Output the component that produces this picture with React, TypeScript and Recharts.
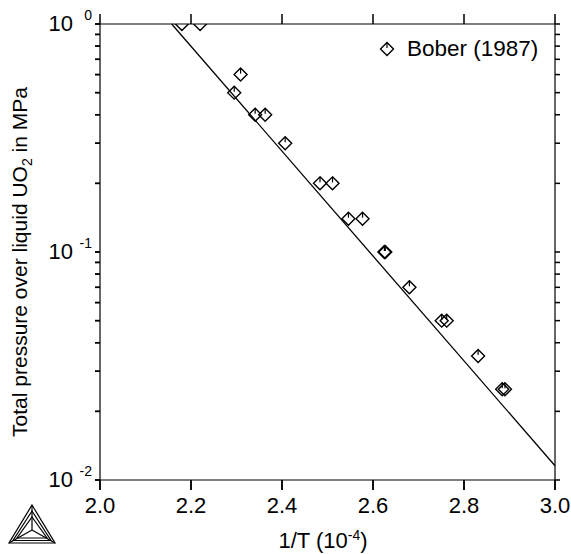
import React from "react";
import {
  ComposedChart,
  Scatter,
  XAxis,
  YAxis,
  ReferenceLine,
} from "recharts";

// Bober (1987) measurements: 1/T (1e-4) vs total pressure (MPa)
const invT = [
  2.18, 2.22, 2.295, 2.309, 2.341, 2.363, 2.407, 2.4835, 2.511, 2.546, 2.577,
  2.625, 2.627, 2.68, 2.751, 2.762, 2.831, 2.884, 2.89,
];
const pressure = [
  1.0, 1.0, 0.5, 0.6, 0.4, 0.4, 0.3, 0.2, 0.2, 0.14, 0.14, 0.1, 0.1, 0.07,
  0.05, 0.05, 0.035, 0.025, 0.025,
];

// fitted line end points
const fitX = [2.1575, 3.0];
const fitY = [1.0, 0.01155];

const xTicks = [2.0, 2.2, 2.4, 2.6, 2.8, 3.0];
const yTicks = [
  0.01, 0.02, 0.03, 0.04, 0.05, 0.06, 0.07, 0.08, 0.09, 0.1, 0.2, 0.3, 0.4,
  0.5, 0.6, 0.7, 0.8, 0.9, 1,
];
const decadeLabels: Record<string, string> = { "0.01": "-2", "0.1": "-1", "1": "0" };

const data = invT.map((x, i) => ({ x, y: pressure[i] }));

const FONT = "'Liberation Sans', Arial, Helvetica, sans-serif";
const W = 571;
const H = 554;
const TOP = 24;
const RIGHT = 16;
const X_TICK = 10;
const X_TICK_GAP = 7;
const Y_TICK = 5;
const Y_TICK_GAP = 2;
const TW = 1.5; // tick thickness

const Diamond = (props: any) => {
  const { cx, cy } = props;
  if (cx == null || cy == null) return null;
  const r = 6.5;
  return (
    <g>
      <path
        d={`M${cx},${cy - r} L${cx + r},${cy} L${cx},${cy + r} L${cx - r},${cy} Z`}
        fill="none"
        stroke="#000"
        strokeWidth={1.4}
      />
      <line x1={cx} y1={cy - r} x2={cx} y2={cy - 1} stroke="#000" strokeWidth={1.2} />
    </g>
  );
};

// bottom tick: label + outward tick, mirrored tick on the top frame
const XTick = (props: any) => {
  const { x, y, payload } = props;
  const axisY = y - X_TICK_GAP - X_TICK;
  return (
    <g>
      <rect x={x - TW / 2} y={axisY} width={TW} height={X_TICK} fill="#000" stroke="none" />
      <rect x={x - TW / 2} y={TOP - X_TICK} width={TW} height={X_TICK} fill="#000" stroke="none" />
      <text
        x={x}
        y={y}
        dy="0.71em"
        textAnchor="middle"
        fontFamily={FONT}
        fontSize={22}
        fill="#000"
        stroke="none"
      >
        {Number(payload.value).toFixed(1)}
      </text>
    </g>
  );
};

// left tick: outward tick, mirrored tick on the right frame, decade label
const YTick = (props: any) => {
  const { x, y, payload } = props;
  const axisX = x + Y_TICK_GAP + Y_TICK;
  const exp = decadeLabels[String(payload.value)];
  return (
    <g fontFamily={FONT}>
      <rect x={axisX - Y_TICK} y={y - TW / 2} width={Y_TICK} height={TW} fill="#000" stroke="none" />
      <rect x={W - RIGHT} y={y - TW / 2} width={Y_TICK} height={TW} fill="#000" stroke="none" />
      {exp && (
        <>
          <text x={x - 20} y={y + 7} textAnchor="end" fontSize={22} fill="#000" stroke="none">
            10
          </text>
          <text x={x - 1} y={y - 4} textAnchor="end" fontSize={14} fill="#000" stroke="none">
            {exp}
          </text>
        </>
      )}
    </g>
  );
};

const YTitle = () => (
  <text
    x={27}
    y={262}
    transform="rotate(-90, 27, 262)"
    textAnchor="middle"
    fontFamily={FONT}
    fontSize={21}
    fill="#000"
  >
    Total pressure over liquid UO
    <tspan fontSize={14} dy={5}>
      2
    </tspan>
    <tspan dy={-5}> in MPa</tspan>
  </text>
);

const XTitle = () => (
  <text
    x={323}
    y={548}
    textAnchor="middle"
    fontFamily={FONT}
    fontSize={22}
    fill="#000"
  >
    1/T (10
    <tspan fontSize={14} dy={-8}>
      -4
    </tspan>
    <tspan dy={8}>)</tspan>
  </text>
);

export default function App() {
  return (
    <div style={{ position: "absolute", left: 0, top: 0, width: W, height: H }}>
      <ComposedChart
        width={W}
        height={H}
        data={data}
        margin={{ top: TOP, right: RIGHT, bottom: 0, left: 0 }}
      >
        <XAxis
          dataKey="x"
          type="number"
          domain={[2, 3]}
          ticks={xTicks}
          interval={0}
          allowDataOverflow
          tickSize={X_TICK}
          tickMargin={X_TICK_GAP}
          height={74}
          axisLine={{ stroke: "#000", strokeWidth: 1.2 }}
          tickLine={{ stroke: "#000", strokeWidth: 1.5 }}
          tick={<XTick />}
          label={{ content: () => <XTitle /> }}
        />
        <YAxis
          dataKey="y"
          type="number"
          scale="log"
          domain={[0.01, 1]}
          ticks={yTicks}
          allowDataOverflow
          interval={0}
          tickSize={Y_TICK}
          tickMargin={Y_TICK_GAP}
          width={100}
          axisLine={{ stroke: "#000", strokeWidth: 1.2 }}
          tickLine={{ stroke: "#000", strokeWidth: 1.5 }}
          tick={<YTick />}
          label={{ content: () => <YTitle /> }}
        />
        {/* frame: top and right borders */}
        <ReferenceLine y={1} stroke="#000" strokeWidth={1.2} />
        <ReferenceLine x={3} stroke="#000" strokeWidth={1.2} />
        <ReferenceLine
          segment={[
            { x: fitX[0], y: fitY[0] },
            { x: fitX[1], y: fitY[1] },
          ]}
          stroke="#000"
          strokeWidth={1.3}
        />
        <Scatter
          name="Bober (1987)"
          data={data}
          dataKey="y"
          shape={<Diamond />}
          isAnimationActive={false}
        />
      </ComposedChart>
      <div
        style={{
          position: "absolute",
          left: 379,
          top: 36,
          display: "flex",
          alignItems: "center",
          fontFamily: FONT,
          fontSize: 22.5,
          color: "#000",
          whiteSpace: "nowrap",
        }}
      >
        <svg width={18} height={18} style={{ marginRight: 10 }}>
          <Diamond cx={8} cy={9} />
        </svg>
        Bober (1987)
      </div>
      <svg
        width={60}
        height={50}
        style={{ position: "absolute", left: 4, top: 500 }}
        fill="none"
        stroke="#000"
        strokeWidth={1.2}
      >
        <path d="M28,5 L51,43 L5,43 Z" />
        <path d="M28,11 L47,40.5 L9,40.5 Z" />
        <path d="M28,17 L43,38 L13,38 Z" />
        <path d="M28,5 L28,30 M28,30 L51,43 M28,30 L5,43" />
      </svg>
    </div>
  );
}
